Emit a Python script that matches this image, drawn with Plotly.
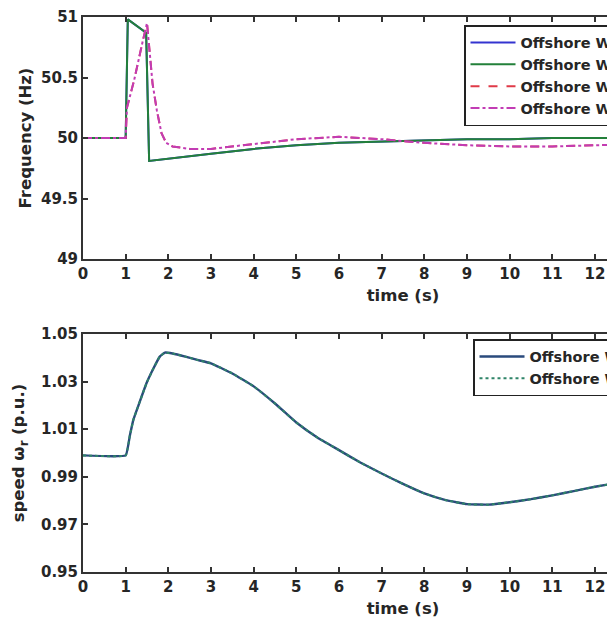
import plotly.graph_objects as go
from plotly.subplots import make_subplots

# ---- data ----
t_wf12 = [0, 1.0, 1.05, 1.48, 1.55, 2.0, 3.0, 4.0, 5.0, 6.0, 7.0, 8.0, 9.0, 10.0, 11.0, 12.0, 13.0, 14.0, 15.0]
f_wf1 = [50.0, 50.0, 50.98, 50.87, 49.81, 49.83, 49.87, 49.91, 49.94, 49.96, 49.97, 49.98, 49.99, 49.99, 50.0, 50.0, 50.0, 50.0, 50.0]
f_wf2 = [50.0, 50.0, 50.98, 50.87, 49.81, 49.83, 49.87, 49.91, 49.94, 49.96, 49.97, 49.98, 49.99, 49.99, 50.0, 50.0, 50.0, 50.0, 50.0]

t_wf34 = [0, 1.0, 1.03, 1.2, 1.4, 1.5, 1.63, 1.73, 1.84, 1.95, 2.1, 2.5, 3.0, 4.0, 5.0, 6.0, 7.0, 8.0, 9.0, 10.0, 11.0, 12.0, 13.0, 14.0, 15.0]
f_wf3 = [50.0, 50.0, 50.25, 50.48, 50.8, 50.95, 50.45, 50.23, 50.04, 49.96, 49.93, 49.91, 49.91, 49.95, 49.99, 50.01, 49.99, 49.96, 49.94, 49.93, 49.93, 49.94, 49.95, 49.96, 49.97]
f_wf4 = [50.0, 50.0, 50.25, 50.48, 50.8, 50.95, 50.45, 50.23, 50.04, 49.96, 49.93, 49.91, 49.91, 49.95, 49.99, 50.01, 49.99, 49.96, 49.94, 49.93, 49.93, 49.94, 49.95, 49.96, 49.97]

t_speed = [0, 1.0, 1.1, 1.18, 1.3, 1.49, 1.65, 1.8, 1.92, 2.1, 2.4, 2.66, 3.0, 3.5, 4.0, 4.5, 5.0, 5.5, 6.0, 6.5, 7.0, 7.5,
           8.0, 8.5, 9.0, 9.5, 10.0, 10.5, 11.0, 11.5, 12.0, 12.5, 13.0, 14.0, 15.0]
w_a = [0.999, 0.999, 1.0075, 1.0139, 1.0200, 1.0294, 1.0355, 1.0405, 1.0422, 1.0418, 1.0405, 1.0392, 1.0377, 1.0334,
       1.0280, 1.0208, 1.0128, 1.0064, 1.0012, 0.9960, 0.9914, 0.9870, 0.9830, 0.9802, 0.9785, 0.9783, 0.9793, 0.9806,
       0.9822, 0.9840, 0.9858, 0.9874, 0.9890, 0.9920, 0.9940]
w_b = [0.999, 0.999, 1.0075, 1.0139, 1.0200, 1.0294, 1.0355, 1.0405, 1.0422, 1.0418, 1.0405, 1.0392, 1.0377, 1.0334,
       1.0280, 1.0208, 1.0128, 1.0064, 1.0012, 0.9960, 0.9914, 0.9870, 0.9830, 0.9802, 0.9785, 0.9783, 0.9793, 0.9806,
       0.9822, 0.9840, 0.9858, 0.9874, 0.9890, 0.9920, 0.9940]

names_top = ["Offshore Wind Farm 1", "Offshore Wind Farm 2", "Offshore Wind Farm 3", "Offshore Wind Farm 4"]
names_bot = ["Offshore Wind Farm 1", "Offshore Wind Farm 2"]
x_ticks = list(range(0, 16))
f_ticks = [49, 49.5, 50, 50.5, 51]
w_ticks = [0.95, 0.97, 0.99, 1.01, 1.03, 1.05]

FONT = "DejaVu Sans"
TXT = "#262626"

fig = make_subplots(rows=2, cols=1)

fig.add_trace(go.Scatter(x=t_wf12, y=f_wf1, mode="lines", name=names_top[0], legendgroup="a",
                         line=dict(color="#3434d0", width=2), legend="legend"), row=1, col=1)
fig.add_trace(go.Scatter(x=t_wf12, y=f_wf2, mode="lines", name=names_top[1], legendgroup="b",
                         line=dict(color="#23803a", width=2), legend="legend"), row=1, col=1)
fig.add_trace(go.Scatter(x=t_wf34, y=f_wf3, mode="lines", name=names_top[2], legendgroup="c",
                         line=dict(color="#e03a48", width=2, dash="dash"), legend="legend"), row=1, col=1)
fig.add_trace(go.Scatter(x=t_wf34, y=f_wf4, mode="lines", name=names_top[3], legendgroup="d",
                         line=dict(color="#c23cb4", width=2, dash="dashdot"), legend="legend"), row=1, col=1)

fig.add_trace(go.Scatter(x=t_speed, y=w_a, mode="lines", name=names_bot[0], legendgroup="e",
                         line=dict(color="#2a4a7c", width=2.4, shape="spline", smoothing=0.3), legend="legend2"), row=2, col=1)
fig.add_trace(go.Scatter(x=t_speed, y=w_b, mode="lines", name=names_bot[1], legendgroup="f",
                         line=dict(color="#2f8468", width=2, dash="dot", shape="spline", smoothing=0.3), legend="legend2"), row=2, col=1)

W, H = 760, 621
axis_common = dict(showline=True, linecolor="#333333", linewidth=2, mirror="ticks",
                   ticks="inside", ticklen=5, tickwidth=1.5, tickcolor="#333333",
                   showgrid=False, zeroline=False,
                   tickfont=dict(family=FONT, size=15, color=TXT))

title_font = dict(family=FONT, size=16.5, color=TXT)

fig.update_xaxes(range=[0, 15], tickvals=x_ticks, ticktext=["<b>%d</b>" % v for v in x_ticks], **axis_common)
fig.update_xaxes(title=dict(text="<b>time (s)</b>", font=title_font, standoff=7), row=1, col=1)
fig.update_xaxes(title=dict(text="<b>time (s)</b>", font=title_font, standoff=7), row=2, col=1)

fig.update_yaxes(range=[49, 51], tickvals=f_ticks, ticktext=["<b>%g</b>" % v for v in f_ticks],
                 title=dict(text="<b>Frequency (Hz)</b>", font=title_font, standoff=5),
                 **axis_common, row=1, col=1)
fig.update_yaxes(range=[0.95, 1.05], tickvals=w_ticks, ticktext=["<b>%.2f</b>" % v for v in w_ticks],
                 title=dict(text="<b>speed ω<sub>r</sub> (p.u.)</b>", font=title_font, standoff=12),
                 **axis_common, row=2, col=1)

legend_font = dict(family=FONT, size=14.5, color=TXT)
fig.update_layout(
    width=W, height=H,
    margin=dict(l=83, r=W - 83 - 640, t=0, b=0, autoexpand=False),
    paper_bgcolor="white", plot_bgcolor="white",
    xaxis=dict(domain=[0, 1]), yaxis=dict(domain=[1 - 259 / H, 1 - 17 / H]),
    xaxis2=dict(domain=[0, 1]), yaxis2=dict(domain=[1 - 572 / H, 1 - 334 / H]),
    legend=dict(x=(464 - 83) / 640, y=1 - 25 / H, xanchor="left", yanchor="top",
                bgcolor="white", bordercolor="#222222", borderwidth=1.5,
                font=legend_font, tracegroupgap=0, itemwidth=45),
    legend2=dict(x=(473 - 83) / 640, y=1 - 339 / H, xanchor="left", yanchor="top",
                 bgcolor="white", bordercolor="#222222", borderwidth=1.5,
                 font=legend_font, tracegroupgap=0, itemwidth=45),
    showlegend=True,
)
for tr in fig.data:
    tr.name = "<b>" + tr.name + "</b>"

fig.write_html("out.html",
               post_script="document.documentElement.style.overflow='hidden';document.body.style.overflow='hidden';document.body.style.margin='0';")
